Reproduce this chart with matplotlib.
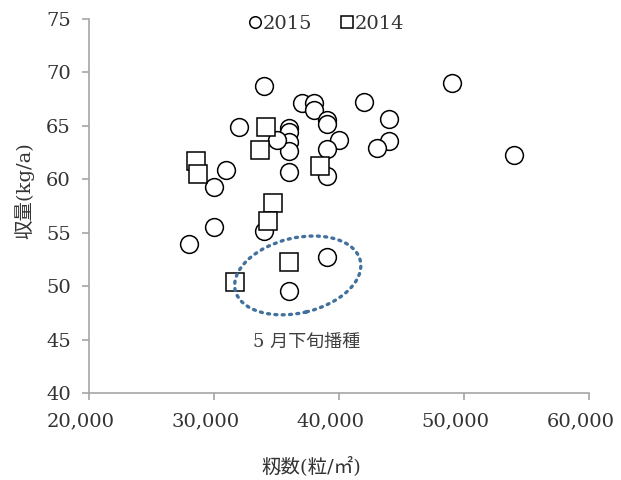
import matplotlib
matplotlib.use("Agg")
import matplotlib.pyplot as plt
from matplotlib.patches import Ellipse
from matplotlib import transforms
from matplotlib.ticker import FuncFormatter

plt.rcParams['font.family'] = ['DejaVu Serif', 'Noto Sans CJK JP']

# 2015 (circles)
x2015 = [34000, 49000, 37000, 38000, 38000, 42000, 44000, 39000, 39000, 32000,
         36000, 36000, 36000, 36000, 36000, 35000, 40000, 39000, 39000, 44000,
         43000, 54000, 31000, 30000, 30000, 28000, 34000, 39000, 36000]
y2015 = [68.7, 69.0, 67.1, 67.1, 66.5, 67.2, 65.6, 65.5, 65.2, 64.9,
         64.8, 64.4, 63.5, 62.6, 60.7, 63.7, 63.7, 62.8, 60.3, 63.6,
         62.9, 62.3, 60.9, 59.3, 55.5, 53.9, 55.2, 52.7, 49.5]

# 2014 (squares)
x2014 = [34200, 33700, 28600, 28700, 38500, 34700, 34300, 36000, 31700]
y2014 = [64.9, 62.7, 61.7, 60.5, 61.2, 57.8, 56.1, 52.3, 50.4]

xticks = [20000, 30000, 40000, 50000, 60000]
yticks = [40, 45, 50, 55, 60, 65, 70, 75]

fig = plt.figure(figsize=(6.21, 4.8), dpi=100)
ax = fig.add_axes([0.1433, 0.1813, 0.8052, 0.7792])

ax.plot(x2015, y2015, 'o', ms=12.8, mfc='white', mec='black', mew=1.1,
        label='2015', zorder=3)
ax.plot(x2014, y2014, 's', ms=12.8, mfc='white', mec='black', mew=1.1,
        label='2014', zorder=3)

ax.set_xlim(20000, 60000)
ax.set_ylim(40, 75)
ax.set_xticks(xticks)
ax.set_yticks(yticks)
ax.xaxis.set_major_formatter(FuncFormatter(lambda v, p: f"{int(v):,}"))

for s in ['top', 'right']:
    ax.spines[s].set_visible(False)
for s in ['left', 'bottom']:
    ax.spines[s].set_color('#a6a6a6')
    ax.spines[s].set_linewidth(1.2)
ax.tick_params(axis='both', direction='out', length=5, width=1.2,
               color='#a6a6a6', labelsize=14, labelcolor='#333333')
ax.tick_params(axis='y', pad=8)
ax.tick_params(axis='x', pad=9)

# x tick labels sit a little left of their ticks in the original
shift = transforms.ScaledTranslation(-6 / 72, 0, fig.dpi_scale_trans)
for lab in ax.get_xticklabels():
    lab.set_transform(lab.get_transform() + shift)

ax.set_xlabel('籾数(粒/㎡)', fontsize=14, color='#333333')
ax.xaxis.set_label_coords(0.445, -0.17)
ax.set_ylabel('収量(kg/a)', fontsize=14, color='#333333')
ax.yaxis.set_label_coords(-0.11, 0.54)

# dotted ellipse around late-May sowing points
trans = fig.dpi_scale_trans + transforms.ScaledTranslation(36700, 51.0, ax.transData)
ell = Ellipse((0, 0), 1.285, 0.75, angle=13.5, transform=trans, fill=False,
              edgecolor='#41719C', linestyle=(0, (0.6, 1.6)), linewidth=2.4,
              capstyle='round', zorder=4)
ax.add_patch(ell)
ax.text(37400, 44.8, '5 月下旬播種', fontsize=13, color='#404040',
        ha='center', va='center')

leg = ax.legend(loc='upper center', bbox_to_anchor=(0.475, 1.057), ncol=2,
                frameon=False, fontsize=14, markerscale=0.65,
                handlelength=0.6, handletextpad=0.1, columnspacing=1.5)
for t in leg.get_texts():
    t.set_color('#333333')

fig.savefig('out.png', dpi=100)
